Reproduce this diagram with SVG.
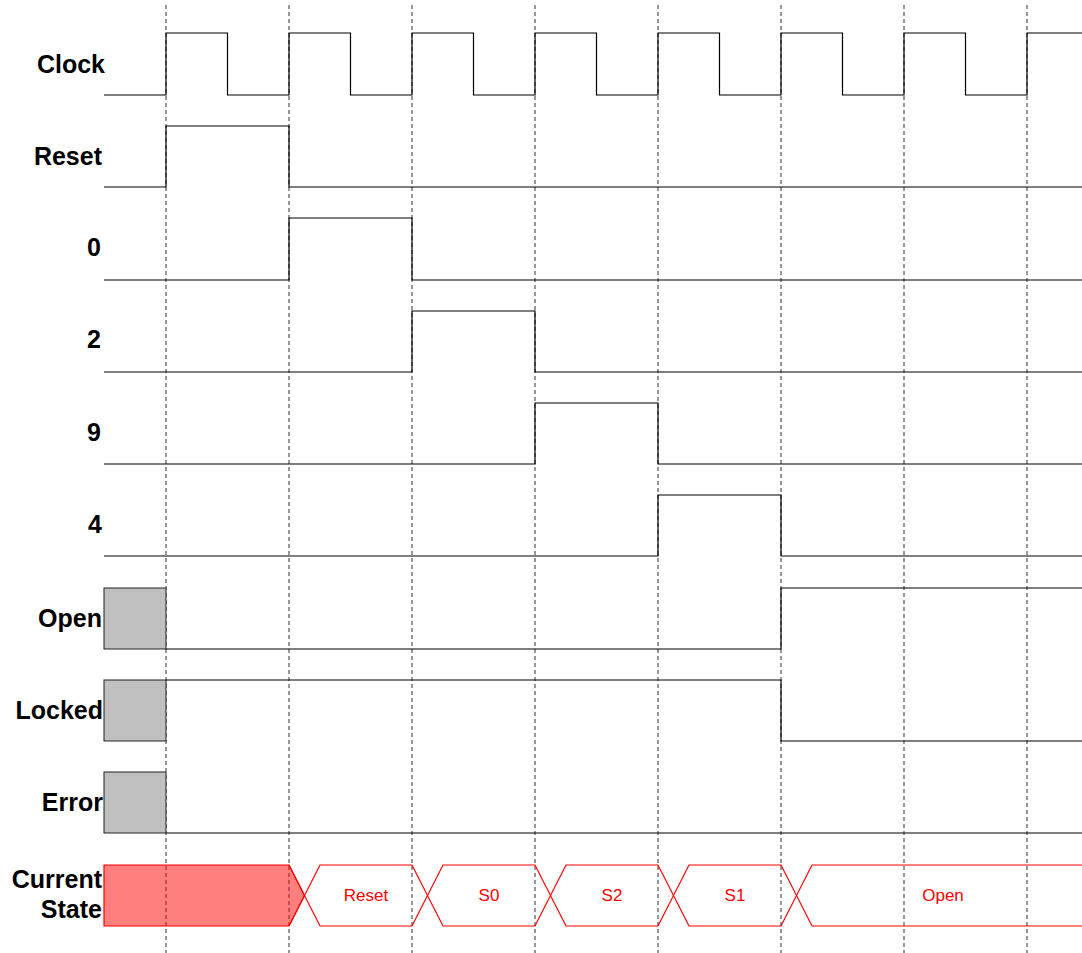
<svg xmlns="http://www.w3.org/2000/svg" width="1082" height="953" viewBox="0 0 1082 953">
<style>
.lbl{font-family:"Liberation Sans",Arial,sans-serif;font-weight:bold;font-size:25px;fill:#000;text-anchor:end}
.sig{fill:none;stroke:#000;stroke-width:1.2}
.grid{stroke:#333;stroke-width:1;stroke-dasharray:4,3}
.box{fill:#c0c0c0;stroke:#222;stroke-width:1}
.st{fill:none;stroke:#ff0000;stroke-width:1.2}
.stt{font-family:"Liberation Sans",Arial,sans-serif;font-size:17px;fill:#ff0000;text-anchor:middle}
</style>
<rect width="1082" height="953" fill="#fff"/>
<g id="connectors">
<line class="grid" x1="166" y1="5" x2="166" y2="953"/>
<line class="grid" x1="289" y1="5" x2="289" y2="953"/>
<line class="grid" x1="412" y1="5" x2="412" y2="953"/>
<line class="grid" x1="535" y1="5" x2="535" y2="953"/>
<line class="grid" x1="658" y1="5" x2="658" y2="953"/>
<line class="grid" x1="781" y1="5" x2="781" y2="953"/>
<line class="grid" x1="904" y1="5" x2="904" y2="953"/>
<line class="grid" x1="1027" y1="5" x2="1027" y2="953"/>
</g>
<g id="clock">
<text class="lbl" x="105" y="73">Clock</text>
<polyline class="sig" points="104,95 166,95 166,33 227.5,33 227.5,95 289,95 289,33 350.5,33 350.5,95 412,95 412,33 473.5,33 473.5,95 535,95 535,33 596.5,33 596.5,95 658,95 658,33 719.5,33 719.5,95 781,95 781,33 842.5,33 842.5,95 904,95 904,33 965.5,33 965.5,95 1027,95 1027,33 1082,33"/>
</g>
<g id="reset">
<text class="lbl" x="102" y="165">Reset</text>
<polyline class="sig" points="104,187 166,187 166,126 289,126 289,187 1082,187"/>
</g>
<g id="in0">
<text class="lbl" x="101" y="256">0</text>
<polyline class="sig" points="104,280 289,280 289,218 412,218 412,280 1082,280"/>
</g>
<g id="in2">
<text class="lbl" x="101" y="348">2</text>
<polyline class="sig" points="104,372 412,372 412,311 535,311 535,372 1082,372"/>
</g>
<g id="in9">
<text class="lbl" x="101" y="441">9</text>
<polyline class="sig" points="104,464 535,464 535,403 658,403 658,464 1082,464"/>
</g>
<g id="in4">
<text class="lbl" x="102" y="533">4</text>
<polyline class="sig" points="104,556 658,556 658,495 781,495 781,556 1082,556"/>
</g>
<g id="open">
<text class="lbl" x="102" y="627">Open</text>
<rect class="box" x="104" y="588" width="62" height="61"/>
<polyline class="sig" points="166,649 781,649 781,588 1082,588"/>
</g>
<g id="locked">
<text class="lbl" x="103" y="719">Locked</text>
<rect class="box" x="104" y="680" width="62" height="61"/>
<polyline class="sig" points="166,680 781,680 781,741 1082,741"/>
</g>
<g id="error">
<text class="lbl" x="103" y="811">Error</text>
<rect class="box" x="104" y="772" width="62" height="61"/>
<polyline class="sig" points="166,833 1082,833"/>
</g>
<g id="current-state">
<text class="lbl" x="102" y="888">Current</text>
<text class="lbl" x="102" y="918">State</text>
<polygon points="104,865 289,865 304.5,895.5 289,926 104,926" fill="#ff0000" fill-opacity="0.5" stroke="#ff0000" stroke-width="1.2"/>
<polyline class="st" points="289,865 320,926 412,926 443,865 535,865 566,926 658,926 689,865 781,865 812,926 1082,926"/>
<polyline class="st" points="289,926 320,865 412,865 443,926 535,926 566,865 658,865 689,926 781,926 812,865 1082,865"/>
<text class="stt" x="366" y="901">Reset</text>
<text class="stt" x="489" y="901">S0</text>
<text class="stt" x="612" y="901">S2</text>
<text class="stt" x="735" y="901">S1</text>
<text class="stt" x="943" y="901">Open</text>
</g>
</svg>
